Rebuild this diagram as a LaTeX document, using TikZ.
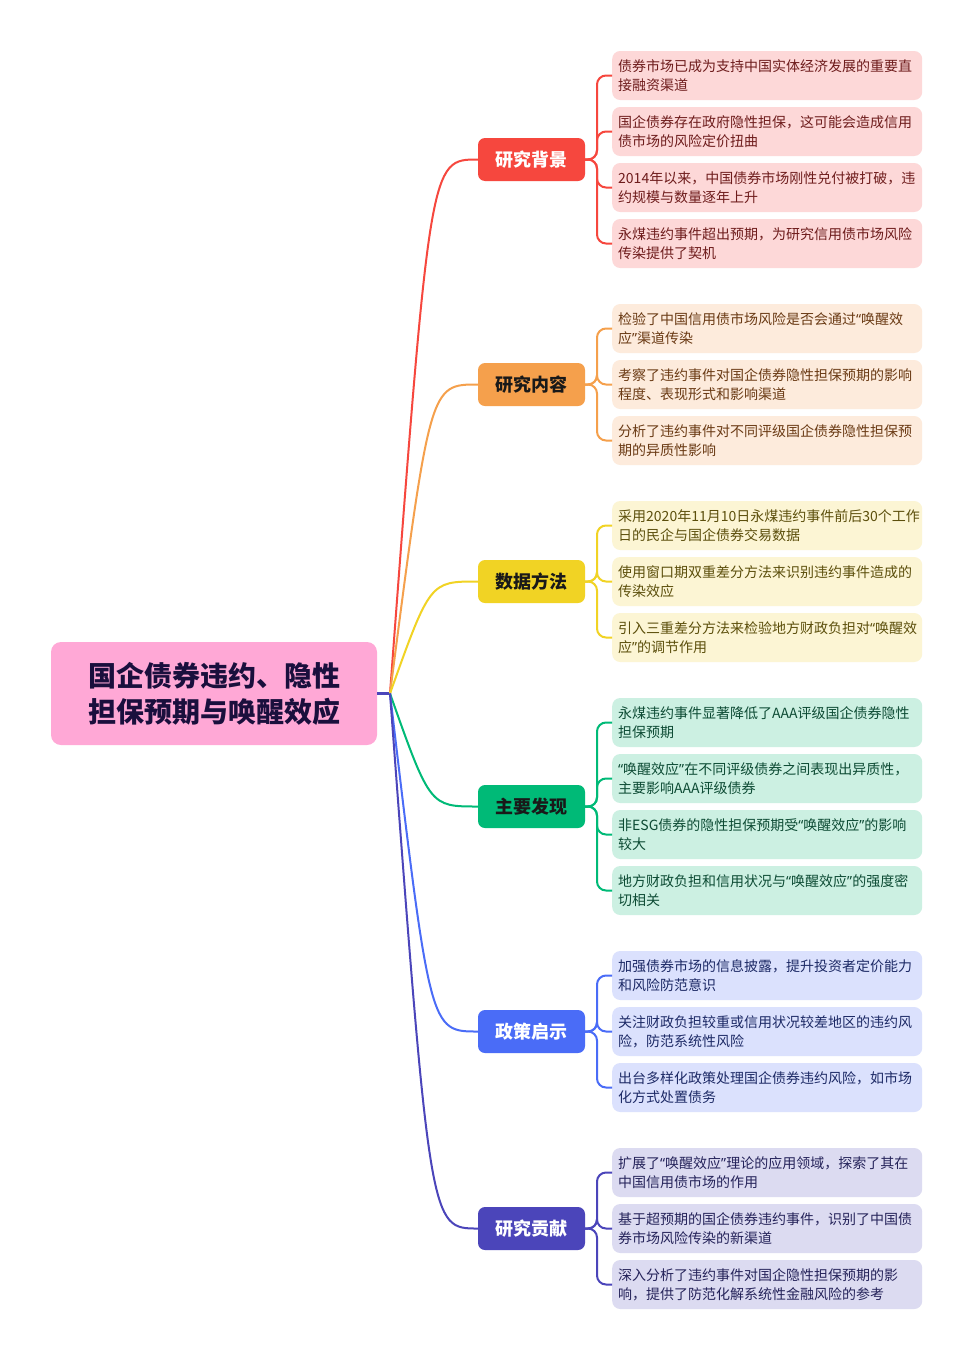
\documentclass[tikz,border=0pt]{standalone}
\usepackage{fontspec}
\setmainfont{Noto Sans CJK SC}
\newfontfamily\qfont{Noto Sans}
\newcommand\oq{{\qfont “}}
\newcommand\cq{{\qfont ”}}
\usetikzlibrary{calc}
\definecolor{cRed}{HTML}{F6473E}
\definecolor{cRedL}{HTML}{FDD8D8}
\definecolor{cRedT}{HTML}{6E1C1C}
\definecolor{cOra}{HTML}{F5A04C}
\definecolor{cOraL}{HTML}{FDEBDC}
\definecolor{cOraT}{HTML}{6A3A14}
\definecolor{cYel}{HTML}{F1D324}
\definecolor{cYelL}{HTML}{FCF5D4}
\definecolor{cYelT}{HTML}{5C4F0C}
\definecolor{cGre}{HTML}{00BA77}
\definecolor{cGreL}{HTML}{CCF0E2}
\definecolor{cGreT}{HTML}{0D4B34}
\definecolor{cBlu}{HTML}{4A6CF7}
\definecolor{cBluL}{HTML}{DBE1FD}
\definecolor{cBluT}{HTML}{1D2A66}
\definecolor{cPur}{HTML}{4B45BA}
\definecolor{cPurL}{HTML}{DCDBF1}
\definecolor{cPurT}{HTML}{25235A}
\definecolor{cRoot}{HTML}{FFA8D6}
\definecolor{cRootT}{HTML}{1A0F3D}
\begin{document}
\begin{tikzpicture}[x=1pt,y=-1pt,
  rootbox/.style={rounded corners=10, minimum width=326, minimum height=103, align=center,
    fill=cRoot, text=cRootT, font=\fontsize{28}{36}\selectfont\bfseries, inner sep=0},
  branchbox/.style={rounded corners=7, minimum width=107, minimum height=43, inner sep=0,
    font=\fontsize{18}{22}\selectfont\bfseries},
  leafbox/.style={rounded corners=8, minimum width=310, minimum height=49, anchor=west,
    text width=298, inner xsep=6, inner ysep=0, align=left, font=\fontsize{14}{19}\selectfont},
  bconn/.style={line width=2pt},
  lconn/.style={line width=2pt, rounded corners=9},
]
\useasboundingbox (0,0) rectangle (973,1360);
\fill[white] (0,0) rectangle (973,1360);

% root
\node[rootbox] (root) at (214,693.5) {国企债券违约、隐性\\担保预期与唤醒效应};
\coordinate (J) at (390,693.5);
\coordinate (cx) at (430,0);
\coordinate (tx) at (597,0);

% branches
\node[branchbox, fill=cRed, text=white] (b1) at (531.5,159.5) {研究背景};
\node[branchbox, fill=cOra, text=black!90] (b2) at (531.5,384.5) {研究内容};
\node[branchbox, fill=cYel, text=black!90] (b3) at (531.5,581.5) {数据方法};
\node[branchbox, fill=cGre, text=black!90] (b4) at (531.5,806.5) {主要发现};
\node[branchbox, fill=cBlu, text=white] (b5) at (531.5,1031.5) {政策启示};
\node[branchbox, fill=cPur, text=white] (b6) at (531.5,1228.5) {研究贡献};

% leaves
\node[leafbox, fill=cRedL, text=cRedT] (l11) at (612,75.5) {债券市场已成为支持中国实体经济发展的重要直\\接融资渠道};
\node[leafbox, fill=cRedL, text=cRedT] (l12) at (612,131.5) {国企债券存在政府隐性担保，这可能会造成信用\\债市场的风险定价扭曲};
\node[leafbox, fill=cRedL, text=cRedT] (l13) at (612,187.5) {2014年以来，中国债券市场刚性兑付被打破，违\\约规模与数量逐年上升};
\node[leafbox, fill=cRedL, text=cRedT] (l14) at (612,243.5) {永煤违约事件超出预期，为研究信用债市场风险\\传染提供了契机};

\node[leafbox, fill=cOraL, text=cOraT] (l21) at (612,328.5) {检验了中国信用债市场风险是否会通过\oq 唤醒效\\应\cq 渠道传染};
\node[leafbox, fill=cOraL, text=cOraT] (l22) at (612,384.5) {考察了违约事件对国企债券隐性担保预期的影响\\程度、表现形式和影响渠道};
\node[leafbox, fill=cOraL, text=cOraT] (l23) at (612,440.5) {分析了违约事件对不同评级国企债券隐性担保预\\期的异质性影响};

\node[leafbox, fill=cYelL, text=cYelT] (l31) at (612,525.5) {采用2020年11月10日永煤违约事件前后30个工作\\日的民企与国企债券交易数据};
\node[leafbox, fill=cYelL, text=cYelT] (l32) at (612,581.5) {使用窗口期双重差分方法来识别违约事件造成的\\传染效应};
\node[leafbox, fill=cYelL, text=cYelT] (l33) at (612,637.5) {引入三重差分方法来检验地方财政负担对\oq 唤醒效\\应\cq 的调节作用};

\node[leafbox, fill=cGreL, text=cGreT] (l41) at (612,722.5) {永煤违约事件显著降低了AAA评级国企债券隐性\\担保预期};
\node[leafbox, fill=cGreL, text=cGreT] (l42) at (612,778.5) {\oq 唤醒效应\cq 在不同评级债券之间表现出异质性，\\主要影响AAA评级债券};
\node[leafbox, fill=cGreL, text=cGreT] (l43) at (612,834.5) {非ESG债券的隐性担保预期受\oq 唤醒效应\cq 的影响\\较大};
\node[leafbox, fill=cGreL, text=cGreT] (l44) at (612,890.5) {地方财政负担和信用状况与\oq 唤醒效应\cq 的强度密\\切相关};

\node[leafbox, fill=cBluL, text=cBluT] (l51) at (612,975.5) {加强债券市场的信息披露，提升投资者定价能力\\和风险防范意识};
\node[leafbox, fill=cBluL, text=cBluT] (l52) at (612,1031.5) {关注财政负担较重或信用状况较差地区的违约风\\险，防范系统性风险};
\node[leafbox, fill=cBluL, text=cBluT] (l53) at (612,1087.5) {出台多样化政策处理国企债券违约风险，如市场\\化方式处置债务};

\node[leafbox, fill=cPurL, text=cPurT] (l61) at (612,1172.5) {扩展了\oq 唤醒效应\cq 理论的应用领域，探索了其在\\中国信用债市场的作用};
\node[leafbox, fill=cPurL, text=cPurT] (l62) at (612,1228.5) {基于超预期的国企债券违约事件，识别了中国债\\券市场风险传染的新渠道};
\node[leafbox, fill=cPurL, text=cPurT] (l63) at (612,1284.5) {深入分析了违约事件对国企隐性担保预期的影\\响，提供了防范化解系统性金融风险的参考};

% root to junction
\draw[line width=2.5pt, cPur] (root.east) -- (J);

% branch connectors
\foreach \b/\c in {b1/cRed, b2/cOra, b3/cYel, b4/cGre, b5/cBlu, b6/cPur}{
  \draw[bconn, \c] (J) .. controls (cx |- \b.west) and (cx |- \b.west) .. (\b.west);
}

% leaf connectors
\foreach \b/\l/\c in {b1/l11/cRed, b1/l12/cRed, b1/l13/cRed, b1/l14/cRed,
  b2/l21/cOra, b2/l22/cOra, b2/l23/cOra,
  b3/l31/cYel, b3/l32/cYel, b3/l33/cYel,
  b4/l41/cGre, b4/l42/cGre, b4/l43/cGre, b4/l44/cGre,
  b5/l51/cBlu, b5/l52/cBlu, b5/l53/cBlu,
  b6/l61/cPur, b6/l62/cPur, b6/l63/cPur}{
  \draw[lconn, \c] (\b.east) -- (tx |- \b.east) |- (\l.west);
}
\end{tikzpicture}
\end{document}
